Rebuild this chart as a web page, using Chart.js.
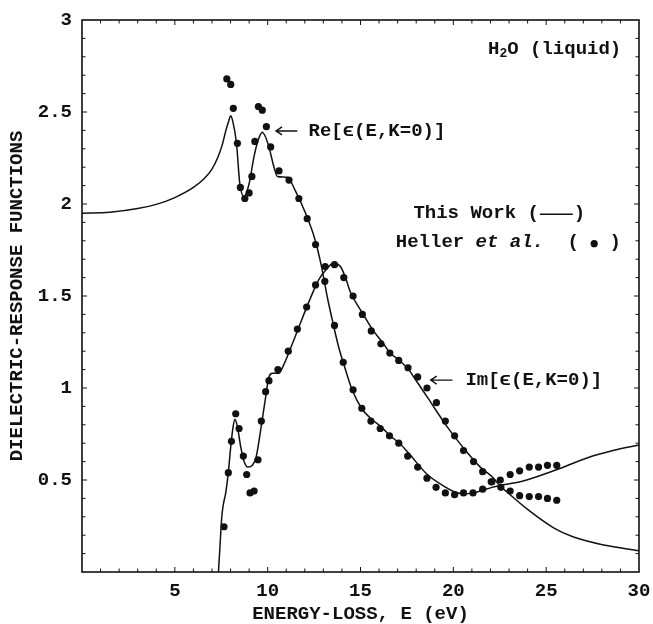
<!DOCTYPE html>
<html>
<head>
<meta charset="utf-8">
<script src="https://cdn.jsdelivr.net/npm/chart.js@4.4.1/dist/chart.umd.min.js"></script>
<style>
  html, body { margin: 0; padding: 0; background: #fff; }
</style>
</head>
<body>
<canvas id="chart" width="653" height="624"></canvas>
<script>
// ---- data ----
const xTicks = [0, 5, 10, 15, 20, 25, 30];
const xTickLabels = ["", "5", "10", "15", "20", "25", "30"];
const yTicks = [0, 0.5, 1, 1.5, 2, 2.5, 3];
const yTickLabels = ["", "0.5", "1", "1.5", "2", "2.5", "3"];

// This Work, Re[eps]
const reCurveE = [0, 1.5, 3, 4, 5, 6, 6.6, 7.0, 7.3, 7.55, 7.75, 7.9, 8.01, 8.12, 8.32, 8.5, 8.73, 9.0, 9.27, 9.5, 9.71,
  10.04, 10.34, 10.52, 11.06, 11.5, 12.04, 12.54, 12.9, 13.2, 13.48, 13.83, 14.19, 14.55, 15.05, 15.6, 16.1, 16.6,
  17.1, 17.6, 18.6, 19.6, 20.07, 20.55, 21.09, 21.6, 22.08, 22.5, 23.6, 25.4, 27.2, 28.6, 30];
const reCurveV = [1.95, 1.955, 1.975, 1.998, 2.035, 2.09, 2.14, 2.19, 2.25, 2.32, 2.40, 2.45, 2.48, 2.45, 2.33, 2.11, 2.04, 2.11, 2.26, 2.35, 2.39,
  2.32, 2.20, 2.15, 2.145, 2.07, 1.95, 1.81, 1.66, 1.50, 1.37, 1.22, 1.10, 0.99, 0.89, 0.83, 0.79, 0.74,
  0.70, 0.645, 0.53, 0.46, 0.435, 0.425, 0.43, 0.445, 0.46, 0.47, 0.49, 0.55, 0.62, 0.66, 0.69];

// This Work, Im[eps]
const imCurveE = [7.35, 7.42, 7.53, 7.6, 7.74, 7.88, 8.01, 8.14, 8.24, 8.37, 8.55, 8.73, 8.94, 9.18, 9.39, 9.62, 9.86,
  10.07, 10.25, 10.6, 10.88, 11.33, 11.83, 12.31, 12.76, 13.2, 13.55, 13.92, 14.19, 14.46, 15.09, 15.63, 16.17,
  16.6, 17.1, 17.6, 17.87, 18.6, 19.66, 20.5, 21.45, 22.17, 22.5, 23.0, 24.0, 25.4, 26.47, 28.1, 30];
const imCurveV = [0, 0.12, 0.30, 0.36, 0.43, 0.54, 0.68, 0.79, 0.83, 0.79, 0.68, 0.60, 0.57, 0.58, 0.63, 0.77, 0.93,
  1.06, 1.08, 1.08, 1.13, 1.24, 1.37, 1.49, 1.59, 1.65, 1.68, 1.66, 1.60, 1.52, 1.41, 1.32, 1.25,
  1.19, 1.15, 1.10, 1.06, 0.95, 0.79, 0.68, 0.57, 0.51, 0.47, 0.425, 0.34, 0.24, 0.19, 0.147, 0.116];

// Heller et al., Re[eps]
const reDotsE = [7.80, 8.01, 8.15, 8.37, 8.53, 8.77, 9.0, 9.15, 9.31, 9.50, 9.71, 9.93, 10.16, 10.61, 11.15, 11.68,
  12.13, 12.58, 13.08, 13.60, 14.07, 14.6, 15.07, 15.56, 16.06, 16.56, 17.06, 17.54, 18.08, 18.58, 19.07, 19.57,
  20.07, 20.55, 21.06, 21.58, 22.04, 22.53, 23.06, 23.57, 24.09, 24.59, 25.07, 25.57];
const reDotsV = [2.68, 2.65, 2.52, 2.33, 2.09, 2.03, 2.06, 2.15, 2.34, 2.53, 2.51, 2.42, 2.31, 2.18, 2.13, 2.03,
  1.92, 1.78, 1.58, 1.34, 1.14, 0.99, 0.89, 0.82, 0.78, 0.74, 0.70, 0.63, 0.57, 0.51, 0.46, 0.43,
  0.42, 0.43, 0.43, 0.45, 0.49, 0.50, 0.53, 0.55, 0.57, 0.57, 0.58, 0.58];

// Heller et al., Im[eps]
const imDotsE = [7.65, 7.88, 8.05, 8.28, 8.46, 8.69, 8.87, 9.05, 9.27, 9.48, 9.66, 9.89, 10.07, 10.55, 11.11, 11.6,
  12.1, 12.58, 13.1, 13.6, 14.1, 14.6, 15.1, 15.58, 16.1, 16.58, 17.06, 17.56, 18.08, 18.58, 19.09, 19.57,
  20.07, 20.55, 21.09, 21.58, 22.08, 22.56, 23.06, 23.57, 24.09, 24.59, 25.07, 25.57];
const imDotsV = [0.246, 0.54, 0.71, 0.86, 0.78, 0.63, 0.53, 0.43, 0.44, 0.61, 0.82, 0.98, 1.04, 1.10, 1.20, 1.32,
  1.44, 1.56, 1.66, 1.67, 1.60, 1.50, 1.40, 1.31, 1.24, 1.19, 1.15, 1.11, 1.06, 1.00, 0.92, 0.82,
  0.74, 0.66, 0.60, 0.545, 0.49, 0.46, 0.44, 0.415, 0.41, 0.41, 0.40, 0.39];

const FONT = '"Liberation Mono", "Courier New", monospace';
const INK = "#111";

function pairs(xs, ys) {
    return xs.map((x, i) => ({ x: x, y: ys[i] }));
}

// frame with inward minor ticks on all four sides
const framePlugin = {
    id: "frame",
    afterDraw(chart) {
        const { ctx, chartArea: a, scales } = chart;
        const x = scales.x, y = scales.y;
        ctx.save();
        ctx.strokeStyle = INK;
        ctx.lineWidth = 1.6;
        ctx.strokeRect(a.left, a.top, a.right - a.left, a.bottom - a.top);
        ctx.lineWidth = 1;
        ctx.beginPath();
        for (let e = 1; e < 30; e++) {
            const px = x.getPixelForValue(e);
            const len = e % 5 === 0 ? 5 : 3.5;
            ctx.moveTo(px, a.bottom); ctx.lineTo(px, a.bottom - len);
            ctx.moveTo(px, a.top); ctx.lineTo(px, a.top + len);
        }
        for (let k = 1; k < 30; k++) {
            const py = y.getPixelForValue(k / 10);
            const len = k % 5 === 0 ? 5 : 3.5;
            ctx.moveTo(a.left, py); ctx.lineTo(a.left + len, py);
            ctx.moveTo(a.right, py); ctx.lineTo(a.right - len, py);
        }
        ctx.stroke();
        ctx.restore();
    }
};

function arrow(ctx, x1, x2, yy) {
    // tail at x2, head at x1 (pointing left)
    ctx.beginPath();
    ctx.moveTo(x2, yy); ctx.lineTo(x1, yy);
    ctx.moveTo(x1 + 6, yy - 4); ctx.lineTo(x1, yy); ctx.lineTo(x1 + 6, yy + 4);
    ctx.stroke();
}

// text labels inside the plot
const notesPlugin = {
    id: "notes",
    afterDraw(chart) {
        const { ctx, scales } = chart;
        const X = v => scales.x.getPixelForValue(v);
        const Y = v => scales.y.getPixelForValue(v);
        const bold = "bold 19px " + FONT;
        ctx.save();
        ctx.fillStyle = INK;
        ctx.strokeStyle = INK;
        ctx.lineWidth = 1.4;
        ctx.textBaseline = "middle";
        ctx.textAlign = "left";

        // H2O (liquid)
        let tx = X(21.87), ty = Y(2.84);
        ctx.font = bold;
        ctx.fillText("H", tx, ty);
        tx += ctx.measureText("H").width;
        ctx.font = "bold 13px " + FONT;
        ctx.fillText("2", tx, ty + 4);
        tx += ctx.measureText("2").width;
        ctx.font = bold;
        ctx.fillText("O (liquid)", tx, ty);

        // Re label
        ty = Y(2.397);
        arrow(ctx, X(10.45), X(11.6), ty);
        ctx.fillText("Re[\u03f5(E,K=0)]", X(12.2), ty);

        // Im label
        ty = Y(1.043);
        arrow(ctx, X(18.78), X(19.95), ty);
        ctx.fillText("Im[\u03f5(E,K=0)]", X(20.65), ty);

        // legend-like text
        ty = Y(1.95);
        tx = X(17.85);
        ctx.fillText("This Work (", tx, ty);
        tx += ctx.measureText("This Work (").width;
        ctx.beginPath();
        ctx.moveTo(tx + 1, ty + 1); ctx.lineTo(tx + 34, ty + 1);
        ctx.stroke();
        ctx.fillText(")", tx + 35, ty);

        ty = Y(1.79);
        tx = X(16.9);
        ctx.fillText("Heller ", tx, ty);
        tx += ctx.measureText("Heller ").width;
        ctx.font = "italic bold 19px " + FONT;
        ctx.fillText("et al.", tx, ty);
        tx += ctx.measureText("et al.").width;
        ctx.font = bold;
        ctx.fillText(" ( ", tx + 12, ty);
        tx += 12 + ctx.measureText(" ( ").width;
        ctx.beginPath();
        ctx.arc(tx + 4, ty + 1, 3.6, 0, Math.PI * 2);
        ctx.fill();
        ctx.fillText(" )", tx + 8, ty);
        ctx.restore();
    }
};

const tickFont = { family: FONT, size: 19, weight: "bold" };
const titleFont = { family: FONT, size: 19, weight: "bold", lineHeight: 1 };

new Chart(document.getElementById("chart"), {
    type: "scatter",
    data: {
        datasets: [
            {
                label: "Im this work",
                data: pairs(imCurveE, imCurveV),
                showLine: true,
                borderColor: INK,
                borderWidth: 1.5,
                pointRadius: 0,
                cubicInterpolationMode: "monotone",
                order: 4
            },
            {
                label: "Re this work",
                data: pairs(reCurveE, reCurveV),
                showLine: true,
                borderColor: INK,
                borderWidth: 1.5,
                pointRadius: 0,
                cubicInterpolationMode: "monotone",
                order: 3
            },
            {
                label: "Re Heller",
                data: pairs(reDotsE, reDotsV),
                pointRadius: 3.6,
                pointBackgroundColor: INK,
                pointBorderWidth: 0,
                order: 2
            },
            {
                label: "Im Heller",
                data: pairs(imDotsE, imDotsV),
                pointRadius: 3.6,
                pointBackgroundColor: INK,
                pointBorderWidth: 0,
                order: 1
            }
        ]
    },
    options: {
        responsive: false,
        animation: false,
        layout: { padding: { top: 20, right: 14, left: 0, bottom: 0 } },
        plugins: { legend: { display: false }, tooltip: { enabled: false } },
        scales: {
            x: {
                type: "linear",
                min: 0,
                max: 30,
                afterBuildTicks: s => { s.ticks = xTicks.map(v => ({ value: v })); },
                afterFit: s => { s.height = 52; s.paddingLeft = 0; s.paddingRight = 0; },
                grid: { display: false, drawTicks: false },
                border: { display: false },
                ticks: {
                    font: tickFont,
                    color: INK,
                    padding: 8,
                    maxRotation: 0,
                    autoSkip: false,
                    callback: v => xTickLabels[xTicks.indexOf(v)]
                },
                title: {
                    display: true,
                    text: "ENERGY-LOSS, E (eV)",
                    font: titleFont,
                    color: INK,
                    padding: { top: 0, bottom: 0 }
                }
            },
            y: {
                type: "linear",
                min: 0,
                max: 3,
                afterBuildTicks: s => { s.ticks = yTicks.map(v => ({ value: v })); },
                afterFit: s => { s.width = 82; s.paddingTop = 0; s.paddingBottom = 0; },
                grid: { display: false, drawTicks: false },
                border: { display: false },
                ticks: {
                    font: tickFont,
                    color: INK,
                    padding: 10,
                    autoSkip: false,
                    callback: v => yTickLabels[yTicks.indexOf(v)]
                },
                title: {
                    display: true,
                    text: "DIELECTRIC-RESPONSE FUNCTIONS",
                    font: titleFont,
                    color: INK,
                    padding: { top: 7.5, bottom: 0 }
                }
            }
        }
    },
    plugins: [framePlugin, notesPlugin]
});
</script>
</body>
</html>
